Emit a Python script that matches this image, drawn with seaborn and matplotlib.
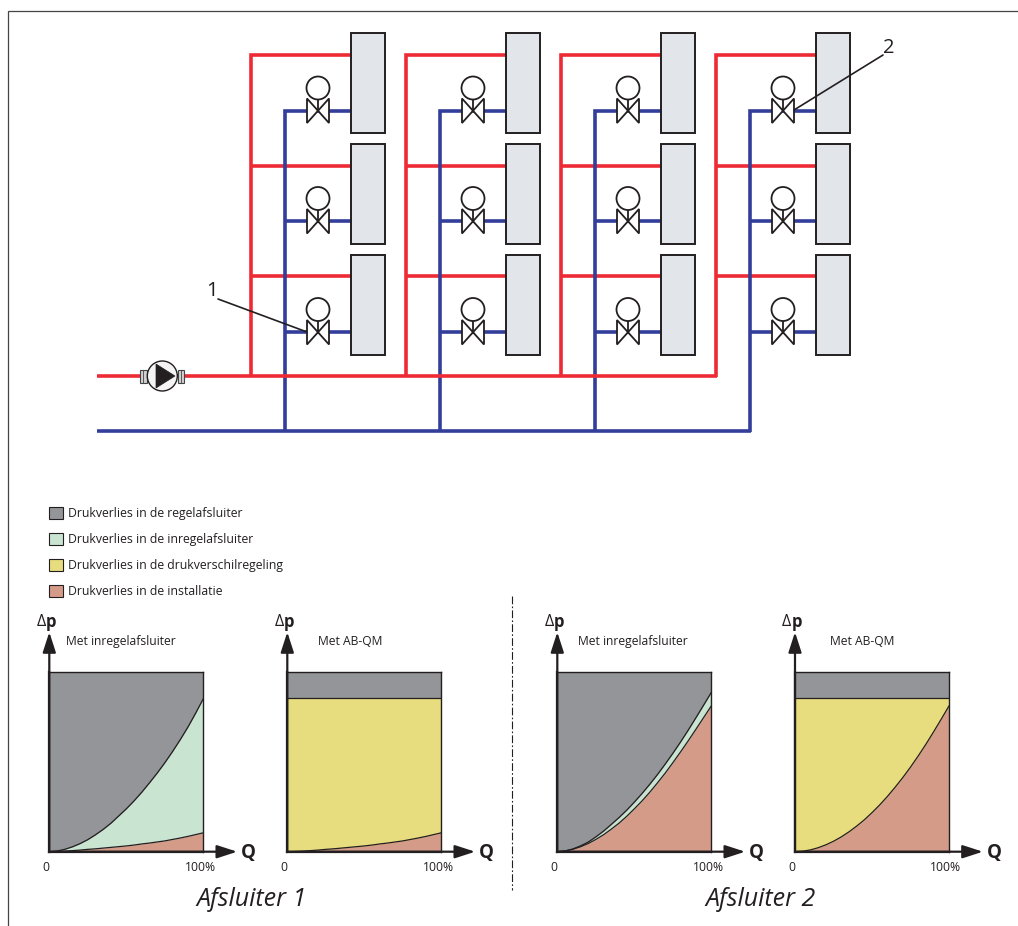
import numpy as np
import matplotlib
matplotlib.use("Agg")
import matplotlib.pyplot as plt
from matplotlib.patches import Circle, Patch, Polygon, Rectangle
from matplotlib.transforms import ScaledTranslation
import seaborn as sns

# Flow in % of design flow, pressure loss in % of the pump head
flow = [0, 5, 10, 15, 20, 25, 30, 35, 40, 45, 50, 55, 60, 65, 70, 75, 80, 85, 90, 95, 100]
full_head = [100] * 21

# Afsluiter 1
inst_near = [0, 0.1, 0.3, 0.6, 0.9, 1.3, 1.6, 2, 2.4, 2.8, 3.2, 3.7, 4.3, 4.8, 5.4, 6, 6.8, 7.6, 8.5, 9.5, 10.5]
balance_near = [0, 0.37, 1.3, 2.7, 4.5, 6.7, 9.4, 12.4, 15.8, 19.8, 23.8, 28.2, 33, 38.2, 43.6, 49.4, 55.6, 62.2, 69.2, 76.9, 85]
abqm_head = [85.5] * 21

# Afsluiter 2
inst_far = [0, 0.4, 1.3, 2.7, 4.5, 6.8, 9.4, 12.5, 15.8, 19.6, 23.8, 28.2, 33, 38.2, 43.6, 49.4, 55.4, 61.6, 68, 74.5, 81]
balance_far = [0, 0.4, 1.5, 3.2, 5.3, 8.2, 11.4, 15.1, 18.9, 23, 27.5, 32.3, 37.4, 42.8, 48.6, 54.6, 60.9, 67.5, 74.4, 81.4, 88.5]
inst_far_ab = [0, 0.27, 1, 2.2, 3.8, 5.8, 8.2, 11, 14.2, 17.7, 21.7, 26, 30.7, 35.8, 41.2, 47, 53.2, 59.7, 66.6, 73.7, 81]

legend_labels = [
    "Drukverlies in de regelafsluiter",
    "Drukverlies in de inregelafsluiter",
    "Drukverlies in de drukverschilregeling",
    "Drukverlies in de installatie",
]

GRAY = "#939598"
GREEN = "#C9E4D1"
YELLOW = "#E8DD7E"
SALMON = "#D59B89"
DARK = "#231F20"
RED = "#EE2A35"
BLUE = "#323E9A"
FONT = "Open Sans"

W, H = 1018, 926

sns.set_theme(style="white")
plt.rcParams["font.family"] = [FONT, "DejaVu Sans"]

fig = plt.figure(figsize=(W / 100, H / 100), dpi=100, facecolor="white")

# Full-figure axes in pixels for the schematic
canvas = fig.add_axes([0, 0, 1, 1])
canvas.set_xlim(0, W)
canvas.set_ylim(H, 0)
canvas.axis("off")


def pipe(xs, ys, color, z):
    canvas.plot(xs, ys, color=color, lw=2.6, zorder=z, solid_joinstyle="miter", solid_capstyle="butt")


def draw_riser(x0):
    red_x = x0
    blue_x = x0 + 34
    rad_x = x0 + 100
    valve_x = x0 + 67
    red_rows = [55, 165.5, 276]
    blue_rows = [110.5, 221, 332]
    rad_tops = [33, 144, 255]

    pipe([rad_x, red_x, red_x], [red_rows[0], red_rows[0], 377], RED, 2)
    for y in red_rows[1:]:
        pipe([red_x, rad_x], [y, y], RED, 2)
    pipe([rad_x, blue_x, blue_x], [blue_rows[0], blue_rows[0], 432], BLUE, 3)
    for y in blue_rows[1:]:
        pipe([blue_x, rad_x], [y, y], BLUE, 3)

    for top in rad_tops:
        canvas.add_patch(Rectangle((rad_x, top), 34, 100, fc="#E2E5EA", ec=DARK, lw=1.4, zorder=5))
    for y in blue_rows:
        canvas.add_patch(Polygon([(valve_x - 11, y - 12), (valve_x + 11, y + 12.5),
                                  (valve_x + 11, y - 12), (valve_x - 11, y + 12.5)],
                                 closed=True, fc="white", ec=DARK, lw=1.3, zorder=6))
        canvas.plot([valve_x, valve_x], [y - 11, y], color=DARK, lw=1.3, zorder=6)
        canvas.add_patch(Circle((valve_x, y - 22.5), 11.5, fc="white", ec=DARK, lw=1.3, zorder=6))


for x0 in [251, 406, 561, 716]:
    draw_riser(x0)

# Main supply and return
pipe([97, 717], [376, 376], RED, 4)
pipe([97, 751], [431, 431], BLUE, 3)

# Pump
canvas.add_patch(Circle((162.3, 376), 15, fc="#F4F4F4", ec=DARK, lw=1, zorder=6))
canvas.add_patch(Polygon([(156, 364), (156, 388), (175, 376)], closed=True, fc=DARK, ec=DARK, lw=0.5, zorder=7))
for fx in [140.3, 178]:
    canvas.add_patch(Rectangle((fx, 370), 6.5, 13, fc="#D0D0D0", ec="#444444", lw=0.8, zorder=5))
    canvas.plot([fx + 3.2, fx + 3.2], [370, 383], color="#444444", lw=0.6, zorder=5)

# Callouts
canvas.plot([218, 307], [299, 332], color=DARK, lw=1.2, zorder=8)
canvas.plot([883, 794], [55, 110], color=DARK, lw=1.2, zorder=8)
canvas.text(212, 291, "1", fontsize=14.5, color=DARK, ha="center", va="center")
canvas.text(888.5, 48, "2", fontsize=14.5, color=DARK, ha="center", va="center")

# Page frame and divider
canvas.plot([8.5, 8.5, W], [H, 11, 11], color="#444444", lw=0.9, solid_joinstyle="miter")
canvas.plot([512, 512], [596, 890], color=DARK, lw=0.8, ls=(0, (7, 2, 1.5, 2)))

# Legend
handles = [Patch(fc=c, ec=DARK, lw=0.8) for c in [GRAY, GREEN, YELLOW, SALMON]]
canvas.legend(handles, legend_labels, loc="upper left", bbox_to_anchor=(44 / W, 1 - 502 / H),
              frameon=False, fontsize=8.85, labelcolor=DARK, handlelength=1.12, handleheight=1.07,
              handletextpad=0.45, labelspacing=1.07, borderpad=0.4, borderaxespad=0)


def draw_panel(left, title, title_x, layers, curves):
    ax = fig.add_axes([left / W, 1 - 851.7 / H, 154 / W, 180 / H])
    ax.patch.set_alpha(0)
    ax.set_xlim(0, 100)
    ax.set_ylim(0, 100)

    # layers are stacked from the top down, each one filled to the axis
    for values, color in layers:
        ax.fill_between(flow, 0, values, color=color, lw=0)
    for values in curves:
        sns.lineplot(x=flow, y=values, ax=ax, color=DARK, lw=0.9, errorbar=None)

    for side in ["top", "right"]:
        ax.spines[side].set_linewidth(1.0)
        ax.spines[side].set_color(DARK)
    for side in ["left", "bottom"]:
        ax.spines[side].set_linewidth(1.6)
        ax.spines[side].set_color(DARK)

    ax.set_yticks([])
    ax.set_xticks([0, 100], ["0", "100%"])
    ax.tick_params(axis="x", length=0, pad=7, labelsize=8.7, labelcolor=DARK)
    shift = ScaledTranslation(-3 / 100, 0, fig.dpi_scale_trans)
    for lab in ax.get_xticklabels():
        lab.set_transform(lab.get_transform() + shift)

    # Axis arrows run past the plot box
    arrow = dict(arrowstyle="-|>,head_length=0.68,head_width=0.22", color=DARK, lw=1.6,
                 shrinkA=0, shrinkB=0, mutation_scale=18)
    ax.annotate("", xy=(0, 1.22), xytext=(0, 0), xycoords="axes fraction", arrowprops=arrow, annotation_clip=False)
    ax.annotate("", xy=(1.22, 0), xytext=(0, 0), xycoords="axes fraction", arrowprops=arrow, annotation_clip=False)

    canvas.text(left - 3.5, 622, "Δ", fontsize=11.5, color=DARK, ha="right", va="center")
    canvas.text(left - 3.5, 622, "p", fontsize=12, fontweight="bold", color=DARK, ha="left", va="center")
    canvas.text(left + 199.5, 853, "Q", fontsize=13.5, fontweight="bold", color=DARK, ha="center", va="center")
    canvas.text(left + title_x, 641.5, title, fontsize=8.75, color=DARK, ha="left", va="center")


panels = [
    (49.3, "Met inregelafsluiter", 17,
     [(full_head, GRAY), (balance_near, GREEN), (inst_near, SALMON)], [balance_near, inst_near]),
    (287.3, "Met AB-QM", 30.5,
     [(full_head, GRAY), (abqm_head, YELLOW), (inst_near, SALMON)], [abqm_head, inst_near]),
    (557.3, "Met inregelafsluiter", 21,
     [(full_head, GRAY), (balance_far, GREEN), (inst_far, SALMON)], [balance_far, inst_far]),
    (795, "Met AB-QM", 35,
     [(full_head, GRAY), (abqm_head, YELLOW), (inst_far_ab, SALMON)], [abqm_head, inst_far_ab]),
]
for left, title, title_x, layers, curves in panels:
    draw_panel(left, title, title_x, layers, curves)

canvas.text(252, 900, "Afsluiter 1", fontsize=18, style="italic", color=DARK, ha="center", va="center")
canvas.text(761, 900, "Afsluiter 2", fontsize=18, style="italic", color=DARK, ha="center", va="center")

fig.savefig("out.png", dpi=100)
